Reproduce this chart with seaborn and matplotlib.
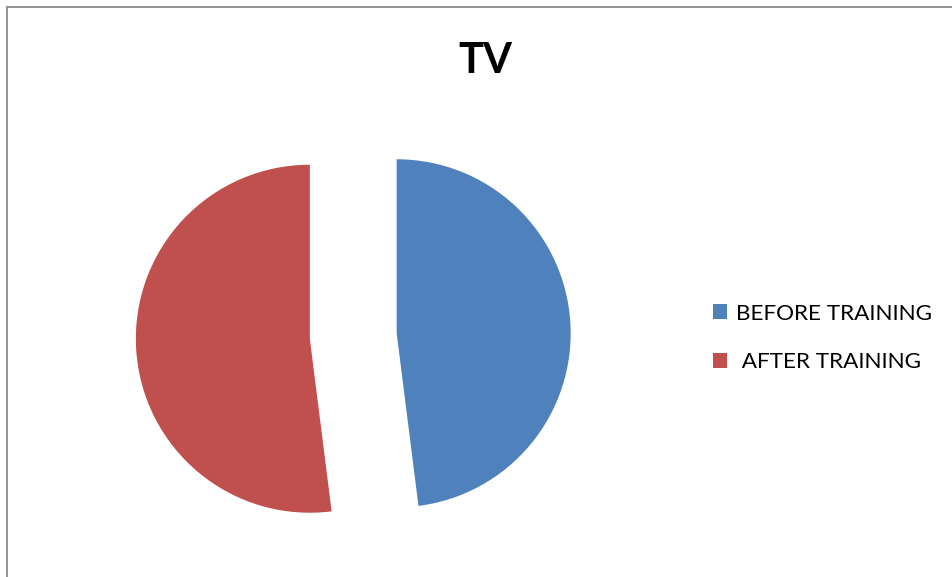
import matplotlib
matplotlib.use("Agg")
import matplotlib.pyplot as plt
from matplotlib.patches import Rectangle
import seaborn as sns

# Share of respondents before / after training
categories = ["BEFORE TRAINING", " AFTER TRAINING"]
shares = [48, 52]
colors = ["#4F81BD", "#C0504D"]
title = "TV"

sns.set_theme(style="white")
plt.rcParams["font.family"] = ["Lato", "DejaVu Sans"]

W, H = 953, 577
fig = plt.figure(figsize=(W / 100, H / 100), dpi=100)
fig.patch.set_facecolor("white")

# axes in pixel-like data units (y up)
ax = fig.add_axes([0, 0, 1, 1])
radius = 174
cx, cy = 353.25, H - 336
gap = 0.25 * radius  # slice separation, in data units
wedges, _ = ax.pie(
    shares,
    colors=colors,
    startangle=90,
    counterclock=False,
    explode=[gap, gap],
    radius=radius,
    center=(cx, cy),
    wedgeprops=dict(linewidth=0),
)
ax.set_xlim(0, W)
ax.set_ylim(0, H)
ax.set_aspect("equal", adjustable="box")
ax.axis("off")

# chart area border
fig.patches.append(Rectangle((7 / W, -0.05), 1.1, 1 - 7 / H + 0.05,
                             transform=fig.transFigure, fill=False,
                             edgecolor="#8a8a8a", linewidth=1.3, zorder=5))

fig.text(485 / W, 1 - 73 / H, title, ha="center", va="baseline",
         fontsize=30, fontweight="bold", color="black")

leg = fig.legend(wedges, categories, loc="upper left",
                 bbox_to_anchor=(713 / W, 1 - 303.5 / H),
                 bbox_transform=fig.transFigure,
                 frameon=False, fontsize=16.2, borderpad=0, borderaxespad=0,
                 handlelength=0.62, handleheight=0.62, handletextpad=0.4,
                 labelspacing=1.28)
for t in leg.get_texts():
    t.set_color("black")

fig.savefig("out.png", dpi=100, facecolor="white")
